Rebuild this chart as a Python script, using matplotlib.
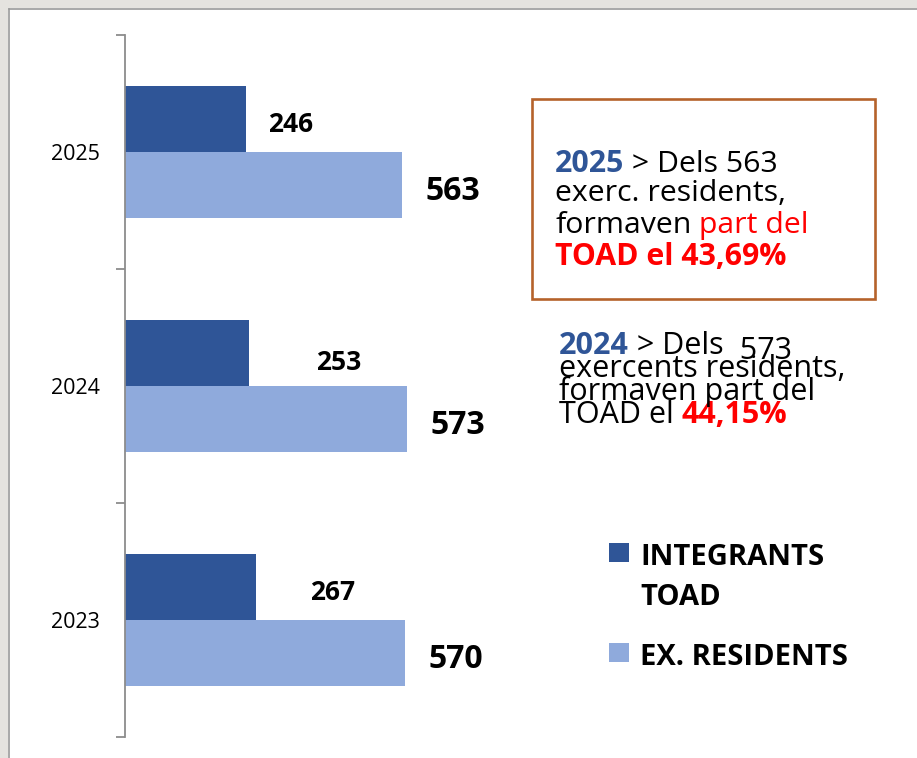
import matplotlib.pyplot as plt
from matplotlib.patches import Rectangle
from matplotlib.lines import Line2D

# dades del gràfic
years = ['2023', '2024', '2025']
integrants = [267, 253, 246]      # INTEGRANTS TOAD
residents = [570, 573, 563]       # EX. RESIDENTS
legend_labels = [['INTEGRANTS', 'TOAD'], ['EX. RESIDENTS']]

DARK = '#2F5597'
LIGHT = '#8FAADC'
RED = '#FF0000'
BOXC = '#B5622B'
W, H = 917, 758

plt.rcParams['font.family'] = ['Open Sans', 'DejaVu Sans']


def fx(px):
    return px / W


def fy(py):
    return 1 - py / H


fig = plt.figure(figsize=(W / 100, H / 100), dpi=100)
fig.patch.set_facecolor('white')

# marc gris de la captura
fig.add_artist(Rectangle((0, fy(8)), 1, 8 / H, transform=fig.transFigure,
                         facecolor='#E5E3DF', edgecolor='none'))
fig.add_artist(Rectangle((0, 0), fx(8), 1, transform=fig.transFigure,
                         facecolor='#E5E3DF', edgecolor='none'))
fig.add_artist(Line2D([fx(8.5), 1], [fy(8.5), fy(8.5)], transform=fig.transFigure,
                      color='#9A9A9A', lw=1.2))
fig.add_artist(Line2D([fx(8.5), fx(8.5)], [0, fy(8.5)], transform=fig.transFigure,
                      color='#9A9A9A', lw=1.2))

# barres
ax = fig.add_axes([fx(125), fy(737), fx(780), (737 - 35) / H])
pos = list(range(len(years)))
bh = 0.284
ax.barh([p + bh / 2 for p in pos], integrants, height=bh, color=DARK, edgecolor='none')
ax.barh([p - bh / 2 for p in pos], residents, height=bh, color=LIGHT, edgecolor='none')
ax.set_xlim(0, 1587)
ax.set_ylim(-0.5, len(years) - 0.5)

for s in ['top', 'right', 'bottom']:
    ax.spines[s].set_visible(False)
ax.spines['left'].set_color('#8C8C8C')
ax.spines['left'].set_linewidth(1.3)
ax.set_xticks([])
ax.set_yticks([p - 0.5 for p in pos] + [len(years) - 0.5])
ax.set_yticklabels([])
ax.tick_params(axis='y', which='major', length=6.5, width=1.3, color='#8C8C8C')
ax.set_yticks(pos, minor=True)
ax.set_yticklabels(years, minor=True, fontsize=15.5)
ax.tick_params(axis='y', which='minor', length=0, pad=18)

# etiquetes de valor
dark_dx = [76, 89, 45]
dark_dy = [-13, -17, -13]
for p, v, dx, dy in zip(pos, integrants, dark_dx, dark_dy):
    ax.annotate(str(v), (v, p + bh / 2), xytext=(dx, dy), textcoords='offset pixels',
                ha='center', va='baseline', fontsize=19, fontweight='bold')
for p, v in zip(pos, residents):
    ax.annotate(str(v), (v, p - bh / 2), xytext=(51, -15), textcoords='offset pixels',
                ha='center', va='baseline', fontsize=23, fontweight='bold')


def rich_line(x, y, pieces, size):
    t = fig.text(fx(x), fy(y), pieces[0][0], color=pieces[0][1],
                 fontweight=pieces[0][2], fontsize=size, va='baseline')
    for s, c, w in pieces[1:]:
        t = ax.annotate(s, xy=(1, 0), xycoords=t, color=c, fontweight=w,
                        fontsize=size, va='bottom', annotation_clip=False)
    return t


# quadre 2025
pct25 = f'{100 * integrants[2] / residents[2]:.2f}'.replace('.', ',')
pct24 = f'{100 * integrants[1] / residents[1]:.2f}'.replace('.', ',')
fig.add_artist(Rectangle((fx(532), fy(299)), fx(875 - 532), (299 - 99) / H,
                         transform=fig.transFigure, facecolor='none',
                         edgecolor=BOXC, lw=1.9))
box_lines = [
    [('2025', DARK, 'bold'), (f' > Dels {residents[2]}', 'black', 'normal')],
    [('exerc. residents,', 'black', 'normal')],
    [('formaven', 'black', 'normal'), (' part del', RED, 'normal')],
    [(f'TOAD el {pct25}%', RED, 'bold')],
]
for yb, line in zip([172, 201, 233, 265], box_lines):
    rich_line(555, yb, line, 21.8)

# text 2024
t24_lines = [
    [('2024', DARK, 'bold'), (' > Dels', 'black', 'normal')],
    [('exercents residents,', 'black', 'normal')],
    [('formaven part del', 'black', 'normal')],
    [('TOAD el ', 'black', 'normal'), (f'{pct24}%', RED, 'bold')],
]
first = True
for yb, line in zip([354, 377, 400, 423], t24_lines):
    t = rich_line(559, yb, line, 22)
    if first:
        ax.annotate(f'  {residents[1]}', xy=(1, 0), xycoords=t, xytext=(0, -5),
                    textcoords='offset pixels', fontsize=22, va='bottom',
                    annotation_clip=False)
        first = False

# llegenda
for color, lines, ytop, ybase in zip([DARK, LIGHT], legend_labels, [543, 643], [565, 665]):
    fig.add_artist(Rectangle((fx(609), fy(ytop + 19)), fx(20), 19 / H,
                             transform=fig.transFigure, facecolor=color, edgecolor='none'))
    for i, s in enumerate(lines):
        fig.text(fx(640), fy(ybase + 40 * i), s, fontsize=21, fontweight='bold',
                 va='baseline')

fig.savefig('out.png', dpi=100)
